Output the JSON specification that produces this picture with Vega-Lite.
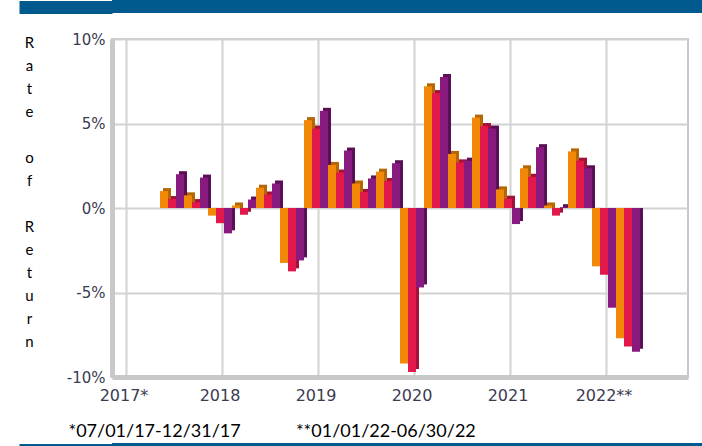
{
  "$schema": "https://vega.github.io/schema/vega-lite/v6.json",
  "background": "white",
  "padding": {"left": 12, "right": 0, "top": 0, "bottom": 0},
  "spacing": 17,
  "config": {"view": {"stroke": null}},
  "vconcat": [
    {
      "width": 590,
      "height": 13,
      "view": {"fill": "#005a8e", "stroke": null},
      "data": {"values": [{"k": 0}]},
      "mark": {"type": "rule", "color": "#005a8e", "strokeWidth": 1},
      "encoding": {
        "y": {
          "field": "k",
          "type": "quantitative",
          "scale": {"domain": [-1, 1]},
          "axis": {"values": [0], "tickSize": 93, "tickWidth": 13, "tickColor": "#005a8e", "labels": false, "domain": false, "grid": false, "title": null}
        }
      }
    },
    {
      "spacing": 2,
      "vconcat": [
        {
          "width": 576,
          "height": 338,
          "view": {"stroke": "#c8c8c8", "strokeWidth": 2},
          "data": {"values": [
            {"quarter": "2017 Q3", "series": "A", "bar": "2017 Q3 A", "ret": 1.0},
            {"quarter": "2017 Q3", "series": "B", "bar": "2017 Q3 B", "ret": 0.53},
            {"quarter": "2017 Q3", "series": "C", "bar": "2017 Q3 C", "ret": 2.0},
            {"quarter": "2017 Q4", "series": "A", "bar": "2017 Q4 A", "ret": 0.75},
            {"quarter": "2017 Q4", "series": "B", "bar": "2017 Q4 B", "ret": 0.35},
            {"quarter": "2017 Q4", "series": "C", "bar": "2017 Q4 C", "ret": 1.8},
            {"quarter": "2018 Q1", "series": "A", "bar": "2018 Q1 A", "ret": -0.45},
            {"quarter": "2018 Q1", "series": "B", "bar": "2018 Q1 B", "ret": -0.9},
            {"quarter": "2018 Q1", "series": "C", "bar": "2018 Q1 C", "ret": -1.5},
            {"quarter": "2018 Q2", "series": "A", "bar": "2018 Q2 A", "ret": 0.15},
            {"quarter": "2018 Q2", "series": "B", "bar": "2018 Q2 B", "ret": -0.4},
            {"quarter": "2018 Q2", "series": "C", "bar": "2018 Q2 C", "ret": 0.5},
            {"quarter": "2018 Q3", "series": "A", "bar": "2018 Q3 A", "ret": 1.2},
            {"quarter": "2018 Q3", "series": "B", "bar": "2018 Q3 B", "ret": 0.8},
            {"quarter": "2018 Q3", "series": "C", "bar": "2018 Q3 C", "ret": 1.45},
            {"quarter": "2018 Q4", "series": "A", "bar": "2018 Q4 A", "ret": -3.25},
            {"quarter": "2018 Q4", "series": "B", "bar": "2018 Q4 B", "ret": -3.75},
            {"quarter": "2018 Q4", "series": "C", "bar": "2018 Q4 C", "ret": -3.1},
            {"quarter": "2019 Q1", "series": "A", "bar": "2019 Q1 A", "ret": 5.2},
            {"quarter": "2019 Q1", "series": "B", "bar": "2019 Q1 B", "ret": 4.7},
            {"quarter": "2019 Q1", "series": "C", "bar": "2019 Q1 C", "ret": 5.75},
            {"quarter": "2019 Q2", "series": "A", "bar": "2019 Q2 A", "ret": 2.55},
            {"quarter": "2019 Q2", "series": "B", "bar": "2019 Q2 B", "ret": 2.1},
            {"quarter": "2019 Q2", "series": "C", "bar": "2019 Q2 C", "ret": 3.4},
            {"quarter": "2019 Q3", "series": "A", "bar": "2019 Q3 A", "ret": 1.45},
            {"quarter": "2019 Q3", "series": "B", "bar": "2019 Q3 B", "ret": 0.95},
            {"quarter": "2019 Q3", "series": "C", "bar": "2019 Q3 C", "ret": 1.75},
            {"quarter": "2019 Q4", "series": "A", "bar": "2019 Q4 A", "ret": 2.15},
            {"quarter": "2019 Q4", "series": "B", "bar": "2019 Q4 B", "ret": 1.6},
            {"quarter": "2019 Q4", "series": "C", "bar": "2019 Q4 C", "ret": 2.65},
            {"quarter": "2020 Q1", "series": "A", "bar": "2020 Q1 A", "ret": -9.2},
            {"quarter": "2020 Q1", "series": "B", "bar": "2020 Q1 B", "ret": -9.7},
            {"quarter": "2020 Q1", "series": "C", "bar": "2020 Q1 C", "ret": -4.7},
            {"quarter": "2020 Q2", "series": "A", "bar": "2020 Q2 A", "ret": 7.2},
            {"quarter": "2020 Q2", "series": "B", "bar": "2020 Q2 B", "ret": 6.8},
            {"quarter": "2020 Q2", "series": "C", "bar": "2020 Q2 C", "ret": 7.75},
            {"quarter": "2020 Q3", "series": "A", "bar": "2020 Q3 A", "ret": 3.2},
            {"quarter": "2020 Q3", "series": "B", "bar": "2020 Q3 B", "ret": 2.7},
            {"quarter": "2020 Q3", "series": "C", "bar": "2020 Q3 C", "ret": 2.8},
            {"quarter": "2020 Q4", "series": "A", "bar": "2020 Q4 A", "ret": 5.35},
            {"quarter": "2020 Q4", "series": "B", "bar": "2020 Q4 B", "ret": 4.85},
            {"quarter": "2020 Q4", "series": "C", "bar": "2020 Q4 C", "ret": 4.7},
            {"quarter": "2021 Q1", "series": "A", "bar": "2021 Q1 A", "ret": 1.1},
            {"quarter": "2021 Q1", "series": "B", "bar": "2021 Q1 B", "ret": 0.55},
            {"quarter": "2021 Q1", "series": "C", "bar": "2021 Q1 C", "ret": -0.95},
            {"quarter": "2021 Q2", "series": "A", "bar": "2021 Q2 A", "ret": 2.35},
            {"quarter": "2021 Q2", "series": "B", "bar": "2021 Q2 B", "ret": 1.85},
            {"quarter": "2021 Q2", "series": "C", "bar": "2021 Q2 C", "ret": 3.6},
            {"quarter": "2021 Q3", "series": "A", "bar": "2021 Q3 A", "ret": 0.15},
            {"quarter": "2021 Q3", "series": "B", "bar": "2021 Q3 B", "ret": -0.45},
            {"quarter": "2021 Q3", "series": "C", "bar": "2021 Q3 C", "ret": 0.05},
            {"quarter": "2021 Q4", "series": "A", "bar": "2021 Q4 A", "ret": 3.35},
            {"quarter": "2021 Q4", "series": "B", "bar": "2021 Q4 B", "ret": 2.8},
            {"quarter": "2021 Q4", "series": "C", "bar": "2021 Q4 C", "ret": 2.35},
            {"quarter": "2022 Q1", "series": "A", "bar": "2022 Q1 A", "ret": -3.45},
            {"quarter": "2022 Q1", "series": "B", "bar": "2022 Q1 B", "ret": -3.95},
            {"quarter": "2022 Q1", "series": "C", "bar": "2022 Q1 C", "ret": -5.9},
            {"quarter": "2022 Q2", "series": "A", "bar": "2022 Q2 A", "ret": -7.7},
            {"quarter": "2022 Q2", "series": "B", "bar": "2022 Q2 B", "ret": -8.2},
            {"quarter": "2022 Q2", "series": "C", "bar": "2022 Q2 C", "ret": -8.5}
          ]},
          "encoding": {
            "x": {
              "field": "bar",
              "type": "ordinal",
              "scale": {
                "paddingInner": 0,
                "paddingOuter": 0,
                "domain": [
                  "2017 Q1 A","2017 Q1 B","2017 Q1 C","2017 Q2 A","2017 Q2 B","2017 Q2 C","2017 Q3 A","2017 Q3 B","2017 Q3 C","2017 Q4 A","2017 Q4 B","2017 Q4 C",
                  "2018 Q1 A","2018 Q1 B","2018 Q1 C","2018 Q2 A","2018 Q2 B","2018 Q2 C","2018 Q3 A","2018 Q3 B","2018 Q3 C","2018 Q4 A","2018 Q4 B","2018 Q4 C",
                  "2019 Q1 A","2019 Q1 B","2019 Q1 C","2019 Q2 A","2019 Q2 B","2019 Q2 C","2019 Q3 A","2019 Q3 B","2019 Q3 C","2019 Q4 A","2019 Q4 B","2019 Q4 C",
                  "2020 Q1 A","2020 Q1 B","2020 Q1 C","2020 Q2 A","2020 Q2 B","2020 Q2 C","2020 Q3 A","2020 Q3 B","2020 Q3 C","2020 Q4 A","2020 Q4 B","2020 Q4 C",
                  "2021 Q1 A","2021 Q1 B","2021 Q1 C","2021 Q2 A","2021 Q2 B","2021 Q2 C","2021 Q3 A","2021 Q3 B","2021 Q3 C","2021 Q4 A","2021 Q4 B","2021 Q4 C",
                  "2022 Q1 A","2022 Q1 B","2022 Q1 C","2022 Q2 A","2022 Q2 B","2022 Q2 C","2022 Q3 A","2022 Q3 B","2022 Q3 C","2022 Q4 A","2022 Q4 B","2022 Q4 C"
                ]
              },
              "axis": {
                "values": ["2017 Q1 B","2018 Q1 B","2019 Q1 B","2020 Q1 B","2021 Q1 B","2022 Q1 B"],
                "labelExpr": "slice(datum.value,0,4) + (datum.value == '2017 Q1 B' ? '*' : (datum.value == '2022 Q1 B' ? '**' : ''))",
                "bandPosition": 0.75,
                "labelAngle": 0,
                "labelFont": "DejaVu Sans",
                "labelFontSize": 16,
                "labelColor": "#3b3b50",
                "labelPadding": 10,
                "labelOffset": 0,
                "ticks": false,
                "grid": true,
                "gridColor": "#d2d2d2",
                "gridWidth": 2,
                "domain": true,
                "domainColor": "#c8c8c8",
                "domainWidth": 5,
                "title": "*07/01/17-12/31/17\u00a0\u00a0\u00a0\u00a0\u00a0\u00a0\u00a0\u00a0\u00a0\u00a0\u00a0\u00a0**01/01/22-06/30/22",
                "titleX": -44,
                "titleY": 59,
                "titleAlign": "left",
                "titleAnchor": "start",
                "titleBaseline": "alphabetic",
                "titleFont": "Lato",
                "titleFontSize": 18,
                "titleFontWeight": "normal",
                "titleColor": "#000000"
              }
            },
            "y": {
              "field": "ret",
              "type": "quantitative",
              "stack": null,
              "scale": {"domain": [-10, 10], "nice": false},
              "axis": {
                "values": [-10, -5, 0, 5, 10],
                "labelExpr": "datum.value + '%'",
                "labelFont": "DejaVu Sans",
                "labelFontSize": 15,
                "labelColor": "#3b3b50",
                "labelPadding": 7,
                "ticks": false,
                "grid": true,
                "gridColor": "#d2d2d2",
                "gridWidth": 2,
                "domain": true,
                "domainColor": "#c8c8c8",
                "domainWidth": 5,
                "title": ["R","a","t","e","\u2800","o","f","\u2800","R","e","t","u","r","n"],
                "titleAngle": 0,
                "titleAlign": "center",
                "titleBaseline": "top",
                "titleX": -83,
                "titleY": -4,
                "titleFont": "Lato",
                "titleFontSize": 15,
                "titleFontWeight": "normal",
                "titleColor": "#000000",
                "titleLineHeight": 23
              }
            }
          },
          "layer": [
            {
              "mark": {"type": "bar", "xOffset": 3, "yOffset": -3},
              "encoding": {
                "fill": {
                  "field": "series",
                  "type": "nominal",
                  "scale": {"domain": ["A", "B", "C"], "range": ["#b56704", "#a3113a", "#5b0f57"]},
                  "legend": null
                }
              }
            },
            {
              "mark": {"type": "bar"},
              "encoding": {
                "color": {
                  "field": "series",
                  "type": "nominal",
                  "scale": {"domain": ["A", "B", "C"], "range": ["#f28807", "#e2184b", "#87197f"]},
                  "legend": null
                }
              }
            }
          ]
        },
        {
          "width": 590,
          "height": 3,
          "view": {"fill": "#005a8e", "stroke": null},
          "data": {"values": [{"k": 0}]},
          "mark": {"type": "rule", "color": "#005a8e", "strokeWidth": 1},
          "encoding": {
            "y": {
              "field": "k",
              "type": "quantitative",
              "scale": {"domain": [-1, 1]},
              "axis": {"values": [0], "tickSize": 93, "tickWidth": 3, "tickColor": "#005a8e", "labels": false, "domain": false, "grid": false, "title": null}
            }
          }
        }
      ]
    }
  ]
}
